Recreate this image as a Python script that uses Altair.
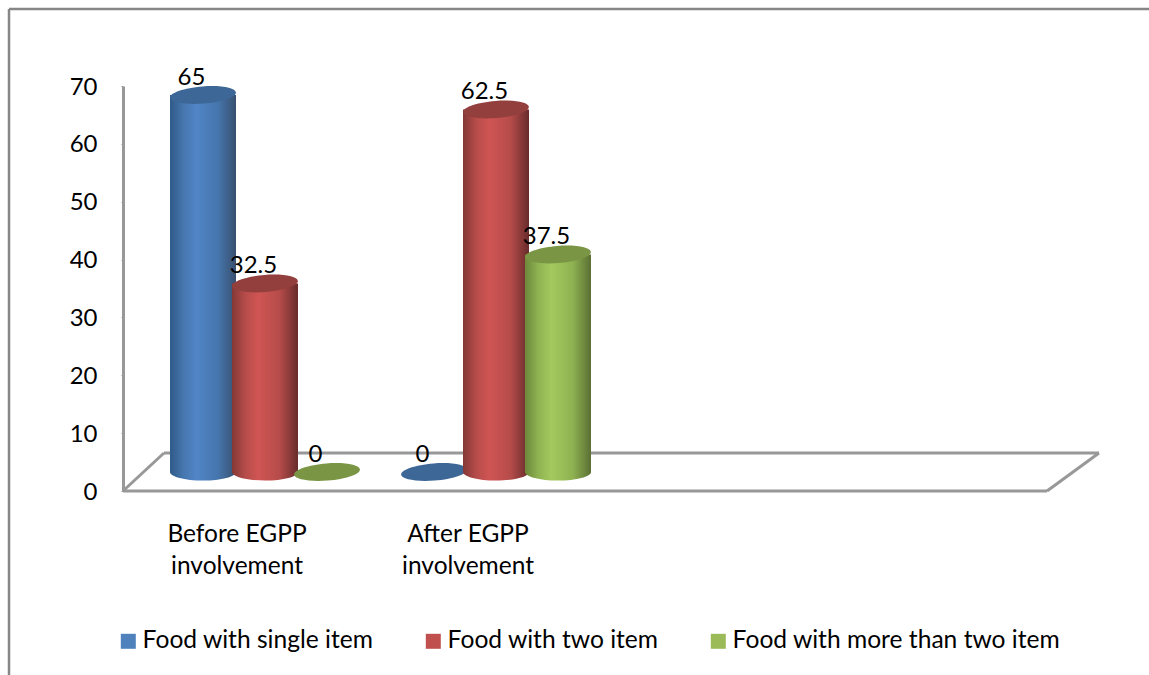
import altair as alt
import pandas as pd

# Values behind the cylinders
categories = ["Before EGPP|involvement", "After EGPP|involvement", " ", "  "]
series = ["Food with single item", "Food with two item", "Food with more than two item"]
single_item = [65, 0]
two_item = [32.5, 62.5]
more_items = [0, 37.5]

solid_colors = ["#4F81BD", "#C0504D", "#9BBB59"]
top_colors = ["#3D6797", "#933F3D", "#7A9645"]
edge_left = ["#2F5A88", "#833836", "#6C883A"]
shoulder = ["#4676AE", "#B64C4A", "#8FB252"]
middle = ["#5085C6", "#CF5553", "#A4C95E"]
edge_right = ["#39506F", "#672C2B", "#5A7033"]

FONT = "Lato"
FRAME = "#868686"
GRID = "#989898"

rows = []
for name, values in zip(series, [single_item, two_item, more_items]):
    for category, value in zip(categories[:2], values):
        rows.append({"category": category, "series": name, "value": value})
table = pd.DataFrame(rows)

# Tilted ellipse for the cylinder caps, level ellipse for the bases
ELLIPSE = "M -0.997 0.078 A 1 0.26 -4.5 1 0 0.997 -0.078 A 1 0.26 -4.5 1 0 -0.997 0.078 Z"
BASE_ELLIPSE = "M -1 0 A 1 0.26 0 1 0 1 0 A 1 0.26 0 1 0 -1 0 Z"
CYL_W = 66

x_cyl = alt.X("category:N", axis=None,
              scale=alt.Scale(type="band", domain=categories, range=[26.5, 950.5],
                              paddingInner=0, paddingOuter=0))
offset_cyl = alt.XOffset("series:N",
                         scale=alt.Scale(type="band", domain=series, range=[22.5, 208.5],
                                         paddingInner=0, paddingOuter=0))
y_cyl = alt.Y("value:Q", axis=None, scale=alt.Scale(domain=[0, 70], range=[386, -20]))
y_base = alt.YDatum(0, axis=None, scale=alt.Scale(domain=[0, 70], range=[386, -20]))


def rule(x1, y1, x2, y2, color, width):
    return alt.Chart(table).transform_filter("datum.value == 65").mark_rule(
        color=color, strokeWidth=width
    ).encode(x=alt.value(x1), x2=alt.value(x2), y=alt.value(y1), y2=alt.value(y2))


def cylinder(i):
    gradient = alt.LinearGradient(
        gradient="linear", x1=0, x2=1, y1=0, y2=0,
        stops=[alt.GradientStop(offset=0, color=edge_left[i]),
               alt.GradientStop(offset=0.2, color=shoulder[i]),
               alt.GradientStop(offset=0.4, color=middle[i]),
               alt.GradientStop(offset=0.72, color=shoulder[i]),
               alt.GradientStop(offset=1, color=edge_right[i])],
    )
    base = alt.Chart(table).transform_filter(alt.datum.series == series[i])
    bottom = base.transform_filter("datum.value > 0").mark_point(
        shape=BASE_ELLIPSE, size=CYL_W ** 2, filled=True, fill=gradient, opacity=1, strokeWidth=0
    ).encode(x=x_cyl, xOffset=offset_cyl, y=y_base)
    body = base.mark_bar(size=CYL_W, fill=gradient).encode(
        x=x_cyl, xOffset=offset_cyl, y=y_cyl, y2=alt.Y2(datum=0)
    )
    cap = base.mark_point(
        shape=ELLIPSE, size=CYL_W ** 2, filled=True, fill=top_colors[i], opacity=1, strokeWidth=0
    ).encode(x=x_cyl, xOffset=offset_cyl, y=y_cyl)
    return [bottom, body, cap]


# Category and value axes on the front plane of the floor
axes = alt.Chart(table).mark_bar(opacity=0).encode(
    x=alt.X("category:N", title=None,
            scale=alt.Scale(type="band", domain=categories, range=[-1.5, 922.5],
                            paddingInner=0, paddingOuter=0),
            axis=alt.Axis(labelExpr="split(datum.label, '|')", labelAngle=0, domain=False,
                          ticks=False, labelFont=FONT, labelFontSize=24.5, labelColor="#000000",
                          labelPadding=31, labelLineHeight=32, labelLimit=300)),
    y=alt.Y("value:Q", title=None, scale=alt.Scale(domain=[0, 70]),
            axis=alt.Axis(values=list(range(0, 71, 10)), grid=False, domainColor=GRID, domainWidth=3,
                          tickColor=GRID, tickSize=2, tickWidth=1, labelFont=FONT, labelFontSize=24,
                          labelColor="#000000", labelPadding=24, labelOffset=1)),
)

# Legend along the bottom, carried by an invisible layer
legend_layer = alt.Chart(table).mark_point(filled=True, size=0).encode(
    color=alt.Color("series:N", title=None,
                    scale=alt.Scale(domain=series, range=solid_colors),
                    legend=alt.Legend(orient="none", legendX=-7, legendY=543, direction="horizontal",
                                      columns=3, columnPadding=47, gridAlign="none",
                                      symbolType="square", symbolSize=225, symbolOpacity=1,
                                      symbolStrokeWidth=0, labelFont=FONT, labelFontSize=24.6,
                                      labelColor="#000000", labelOffset=2, labelLimit=400)),
)

labels = alt.Chart(table).mark_text(font=FONT, fontSize=24, color="#000000", dx=-11.5, dy=-17.5).encode(
    x=x_cyl, xOffset=offset_cyl, y=y_cyl, text=alt.Text("value:Q")
)

# Plot origin sits at pixel (123, 86)
frame_and_floor = [
    rule(-114, -77, 1026, -77, FRAME, 2.5),
    rule(-114, -77, -114, 589, FRAME, 2.5),
    rule(0, 405, 924, 405, GRID, 3),
    rule(41, 367, 976, 367, GRID, 3),
    rule(0, 405, 41, 367, GRID, 3),
    rule(924, 405, 976, 367, GRID, 3),
]

layers = frame_and_floor + [axes, legend_layer]
for i in range(3):
    layers += cylinder(i)
layers.append(labels)

chart = alt.layer(*layers).resolve_scale(x="independent", y="independent", color="independent").properties(
    width=924, height=405,
    padding={"left": 123, "top": 86, "right": 102, "bottom": 184},
    autosize=alt.AutoSizeParams(type="none"),
    background="#FFFFFF",
).configure_view(stroke=None)

chart.save("out.html", embed_options={"renderer": "svg", "actions": False})
